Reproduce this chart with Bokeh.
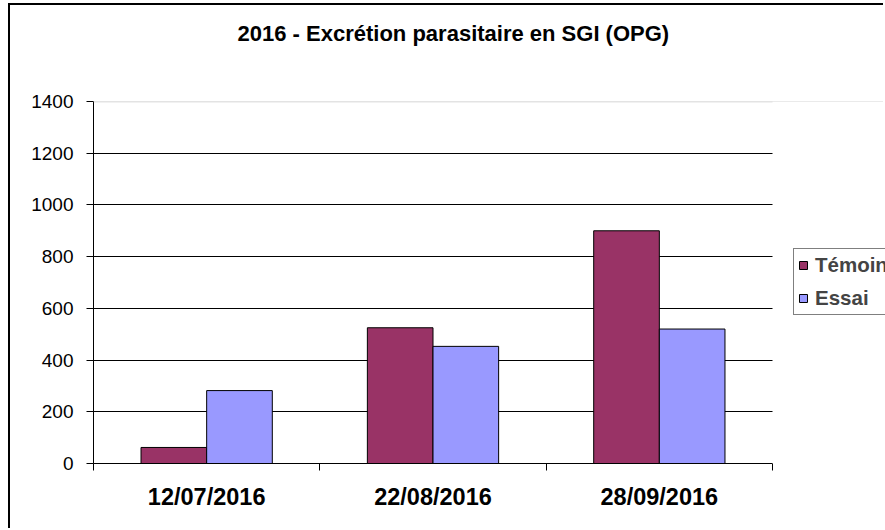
from bokeh.plotting import figure
from bokeh.models import (ColumnDataSource, Range1d, FixedTicker, Legend, LegendItem, Span,
                          LinearAxis, BoxAnnotation)
from bokeh.transform import dodge
from bokeh.embed import file_html
from bokeh.resources import INLINE

# ---- data ----
categories = ["12/07/2016", "22/08/2016", "28/09/2016"]
series_names = ["Témoin", "Essai"]
temoin = [62, 525, 900]
essai = [282, 453, 520]
y_ticks = [0, 200, 400, 600, 800, 1000, 1200, 1400]
title_text = "2016 - Excrétion parasitaire en SGI (OPG)"

FONT = "Liberation Sans"
C_TEMOIN = "#993366"
C_ESSAI = "#9999FF"

# ---- layout constants (pixels) ----
W, H = 875, 525
LEFT, TOP, BOTTOM = 83, 96, 67
PLOT_W = 679            # width of the category area
TITLE_POS = 1.59        # horizontal anchor of the title, in category units

n = len(categories)
centers = [i + 0.5 for i in range(n)]
bounds = [float(i) for i in range(n + 1)]
bar_w = 0.29
x_end = n * (W - LEFT) / PLOT_W

p = figure(width=W, height=H, x_range=Range1d(0, x_end), y_range=Range1d(0, y_ticks[-1]),
           output_backend="svg", toolbar_location=None,
           min_border_left=LEFT, min_border_right=0, min_border_top=TOP, min_border_bottom=BOTTOM)
p.outline_line_color = None
p.background_fill_color = "white"
p.border_fill_color = "white"
p.styles = {"margin-left": "8px", "margin-top": "3px",
            "border-left": "2px solid #000", "border-top": "2px solid #000"}

src = ColumnDataSource(dict(x=centers, temoin=temoin, essai=essai))

# grid
p.xgrid.visible = False
p.ygrid.ticker = FixedTicker(ticks=y_ticks[1:-1])
p.ygrid.grid_line_color = "#000000"
p.ygrid.grid_line_width = 1
p.add_layout(Span(location=y_ticks[-1], dimension="width", line_color="#c8c8c8", line_width=1.5))

r1 = p.vbar(x=dodge("x", -bar_w / 2, range=p.x_range), top="temoin", width=bar_w, bottom=0,
            source=src, fill_color=C_TEMOIN, line_color="#000000", line_width=1)
r2 = p.vbar(x=dodge("x", bar_w / 2, range=p.x_range), top="essai", width=bar_w, bottom=0,
            source=src, fill_color=C_ESSAI, line_color="#000000", line_width=1)

# blank area right of the category area (legend zone)
p.add_layout(BoxAnnotation(left=n, fill_color="white", fill_alpha=1, line_color=None))

# x axis
xa = p.xaxis[0]
xa.bounds = (0, n)
xa.ticker = FixedTicker(ticks=centers, minor_ticks=bounds)
xa.major_label_overrides = {c: lab for c, lab in zip(centers, categories)}
xa.major_tick_out = 0
xa.major_tick_in = 0
xa.minor_tick_out = 7
xa.minor_tick_in = 0
xa.minor_tick_line_color = "#000000"
xa.axis_line_color = "#000000"
xa.major_label_text_font = FONT
xa.major_label_text_font_style = "bold"
xa.major_label_text_font_size = "23.5px"
xa.major_label_text_color = "#000000"
xa.major_label_standoff = 13

# y axis
ya = p.yaxis[0]
ya.ticker = FixedTicker(ticks=y_ticks)
ya.major_tick_out = 7
ya.major_tick_in = 0
ya.minor_tick_out = 0
ya.minor_tick_in = 0
ya.major_tick_line_color = "#000000"
ya.axis_line_color = "#000000"
ya.major_label_text_font = FONT
ya.major_label_text_font_size = "19px"
ya.major_label_text_color = "#000000"
ya.major_label_standoff = 13

# chart title, drawn as the single label of a top axis
title_axis = LinearAxis(ticker=FixedTicker(ticks=[TITLE_POS], minor_ticks=[]),
                        major_label_overrides={TITLE_POS: title_text},
                        axis_line_color=None, major_tick_line_color=None,
                        minor_tick_line_color=None,
                        major_tick_out=0, major_tick_in=0, minor_tick_out=0, minor_tick_in=0,
                        major_label_text_font=FONT, major_label_text_font_style="bold",
                        major_label_text_font_size="22px", major_label_text_color="#000000",
                        major_label_standoff=56)
p.add_layout(title_axis, "above")

legend = Legend(items=[LegendItem(label=series_names[0], renderers=[r1]),
                       LegendItem(label=series_names[1], renderers=[r2])],
                location=(700, 148))
legend.border_line_color = "#000000"
legend.border_line_width = 1.3
legend.background_fill_color = "white"
legend.background_fill_alpha = 1
legend.label_text_font = FONT
legend.label_text_font_style = "bold"
legend.label_text_font_size = "20.5px"
legend.glyph_width = 10
legend.glyph_height = 10
legend.label_standoff = 7
legend.padding = 4
legend.spacing = 9
legend.label_height = 23
legend.margin = 0
p.add_layout(legend)

open("out.html", "w").write(file_html(p, INLINE))
